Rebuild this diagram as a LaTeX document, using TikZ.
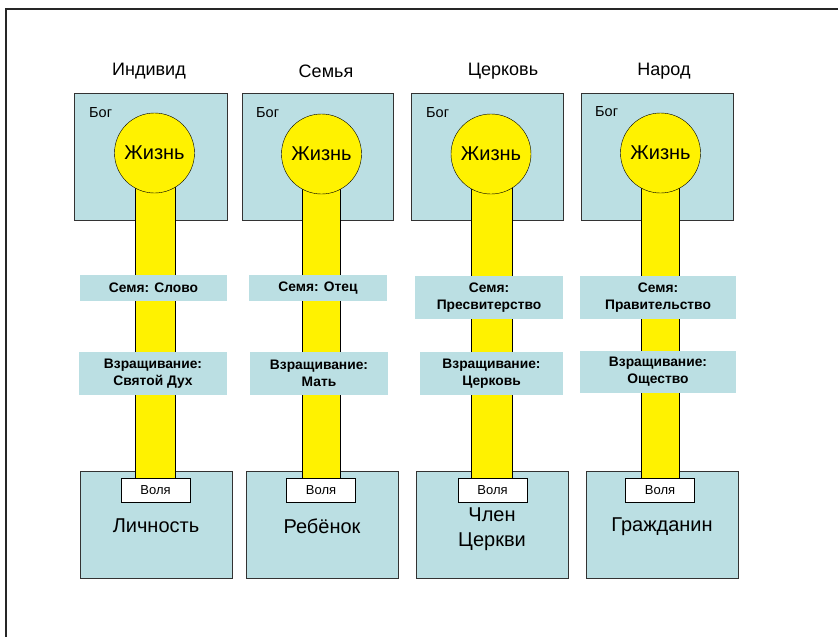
\documentclass[tikz,border=0pt]{standalone}
\usepackage{fontspec}
\setmainfont{Liberation Sans}
\usepackage{tikz}
\usetikzlibrary{positioning}

\definecolor{pale}{RGB}{187,223,227}

\pgfdeclarelayer{back}
\pgfdeclarelayer{mid}
\pgfsetlayers{back,mid,main}

\tikzset{
    godbox/.style={rectangle, draw=black!80, fill=pale, minimum width=152pt, minimum height=127pt, inner sep=0pt},
    lifeball/.style={circle, draw, fill=yellow, minimum size=80pt, inner sep=0pt, font=\fontsize{20}{22}\selectfont},
    lifebar/.style={draw, fill=yellow},
    stage/.style={rectangle, fill=pale, inner sep=0pt, align=center, font=\bfseries\fontsize{13.8}{17}\selectfont},
    personbox/.style={rectangle, draw=black!80, line width=0.8pt, fill=pale, minimum width=152pt, minimum height=107pt, inner sep=0pt},
    willbox/.style={rectangle, draw, fill=white, minimum width=69pt, minimum height=24pt, inner sep=0pt, font=\fontsize{13}{15}\selectfont},
    heading/.style={font=\fontsize{18}{20}\selectfont},
    godlabel/.style={anchor=west, inner sep=0pt, font=\fontsize{14.5}{16}\selectfont},
    person/.style={align=center, font=\fontsize{20}{25}\selectfont}
}

\begin{document}
\begin{tikzpicture}[x=1pt, y=-1pt]
        \useasboundingbox (0,0) rectangle (838,637);
        \draw[line width=1.3pt, black!85] (6,637) -- (6,9) -- (838,9);

        % Individual
        \node[heading] (Title1) at (149,71) {Индивид};
        \begin{pgfonlayer}{back}
            \node[godbox, minimum width=153pt] (God1) at (150.5,156.5) {};
            \node[personbox] (Person1) at (156,524.5) {};
        \end{pgfonlayer}
        \node[godlabel] (GodText1) at (89,113) {Бог};
        \node[lifeball] (Life1) at (154.5,153) {Жизнь};
        \node[willbox] (Will1) at (155.5,490) {Воля};
        \begin{pgfonlayer}{mid}
            \draw[lifebar] ([xshift=-19.5pt] Life1.center) rectangle ([xshift=19.5pt] Will1.north);
        \end{pgfonlayer}
        \node[stage, minimum width=147pt, minimum height=26pt] (Seed1) at (153.5,288) {Семя: Слово};
        \node[stage, minimum width=148pt, minimum height=43pt] (Grow1) at (153,373.5) {Взращивание:\\Святой Дух};
        \node[person] (PersonText1) at (156,526) {Личность};

        % Family
        \node[heading] (Title2) at (326,71) {Семья};
        \begin{pgfonlayer}{back}
            \node[godbox, minimum width=151pt] (God2) at (317.5,157) {};
            \node[personbox] (Person2) at (322,525) {};
        \end{pgfonlayer}
        \node[godlabel] (GodText2) at (256,113) {Бог};
        \node[lifeball] (Life2) at (321.5,154) {Жизнь};
        \node[willbox] (Will2) at (321,490) {Воля};
        \begin{pgfonlayer}{mid}
            \draw[lifebar] ([xshift=-19.5pt] Life2.center) rectangle ([xshift=19.5pt] Will2.north);
        \end{pgfonlayer}
        \node[stage, minimum width=138pt, minimum height=26pt] (Seed2) at (318,288) {Семя: Отец};
        \node[stage, minimum width=138pt, minimum height=43pt] (Grow2) at (319,373.5) {Взращивание:\\Мать};
        \node[person] (PersonText2) at (322,526) {Ребёнок};

        % Church
        \node[heading] (Title3) at (503,71) {Церковь};
        \begin{pgfonlayer}{back}
            \node[godbox] (God3) at (487,157) {};
            \node[personbox] (Person3) at (492,524.5) {};
        \end{pgfonlayer}
        \node[godlabel] (GodText3) at (426,113) {Бог};
        \node[lifeball] (Life3) at (491,154) {Жизнь};
        \node[willbox] (Will3) at (492.5,490) {Воля};
        \begin{pgfonlayer}{mid}
            \draw[lifebar] ([xshift=-19.5pt] Life3.center) rectangle ([xshift=19.5pt] Will3.north);
        \end{pgfonlayer}
        \node[stage, minimum width=148pt, minimum height=43pt] (Seed3) at (489,297.5) {Семя:\\Пресвитерство};
        \node[stage, minimum width=143pt, minimum height=43pt] (Grow3) at (491.5,373.5) {Взращивание:\\Церковь};
        \node[person] (PersonText3) at (492,529) {Член\\Церкви};

        % Nation
        \node[heading] (Title4) at (664,71) {Народ};
        \begin{pgfonlayer}{back}
            \node[godbox] (God4) at (657,157) {};
            \node[personbox] (Person4) at (662,524.5) {};
        \end{pgfonlayer}
        \node[godlabel] (GodText4) at (595,112) {Бог};
        \node[lifeball] (Life4) at (660.5,153) {Жизнь};
        \node[willbox] (Will4) at (660,490) {Воля};
        \begin{pgfonlayer}{mid}
            \draw[lifebar] ([xshift=-19.5pt] Life4.center) rectangle ([xshift=19.5pt] Will4.north);
        \end{pgfonlayer}
        \node[stage, minimum width=156pt, minimum height=43pt] (Seed4) at (658,297.5) {Семя:\\Правительство};
        \node[stage, minimum width=156pt, minimum height=42pt] (Grow4) at (658,372) {Взращивание:\\Ощество};
        \node[person] (PersonText4) at (662,527) {Гражданин};
    \end{tikzpicture}
\end{document}
